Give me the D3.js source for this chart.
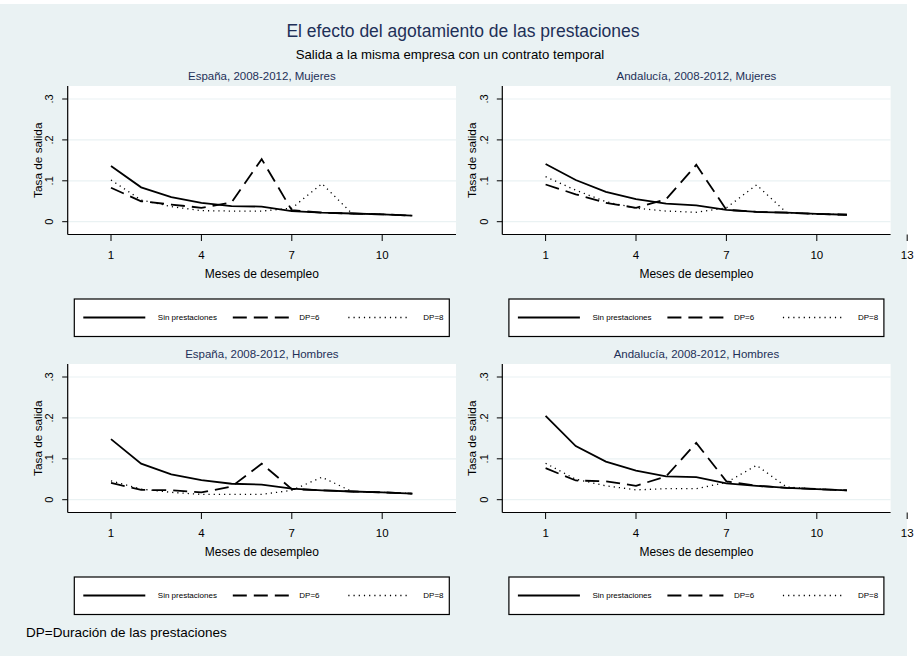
<!DOCTYPE html>
<html>
<head>
<meta charset="utf-8">
<script src="https://cdn.jsdelivr.net/npm/d3@7"></script>
<style>
  body { margin: 0; background: #fff; }
  text { font-family: "Liberation Sans", Arial, sans-serif; }
</style>
</head>
<body>
<div id="chart"></div>
<script>
// data
var months = [1, 2, 3, 4, 5, 6, 7, 8, 9, 10, 11];
var panelTitles = ["España, 2008-2012, Mujeres", "Andalucía, 2008-2012, Mujeres",
                   "España, 2008-2012, Hombres", "Andalucía, 2008-2012, Hombres"];
var sinPrestaciones = [
    [0.136, 0.084, 0.060, 0.046, 0.038, 0.037, 0.026, 0.022, 0.020, 0.018, 0.015],
    [0.141, 0.102, 0.073, 0.055, 0.044, 0.040, 0.029, 0.024, 0.022, 0.019, 0.017],
    [0.148, 0.088, 0.062, 0.048, 0.039, 0.037, 0.027, 0.023, 0.020, 0.018, 0.015],
    [0.205, 0.131, 0.093, 0.071, 0.057, 0.055, 0.040, 0.034, 0.029, 0.026, 0.023]
];
var dp6 = [
    [0.083, 0.050, 0.042, 0.034, 0.047, 0.153, 0.028, 0.022, 0.020, 0.018, 0.015],
    [0.091, 0.067, 0.046, 0.034, 0.055, 0.139, 0.029, 0.024, 0.022, 0.019, 0.017],
    [0.041, 0.024, 0.023, 0.018, 0.032, 0.088, 0.026, 0.023, 0.020, 0.018, 0.015],
    [0.077, 0.047, 0.045, 0.034, 0.057, 0.139, 0.045, 0.034, 0.029, 0.026, 0.023]
];
var dp8 = [
    [0.102, 0.053, 0.037, 0.027, 0.026, 0.026, 0.033, 0.093, 0.020, 0.018, 0.015],
    [0.110, 0.077, 0.049, 0.033, 0.026, 0.023, 0.034, 0.090, 0.022, 0.019, 0.017],
    [0.046, 0.026, 0.018, 0.013, 0.013, 0.013, 0.023, 0.055, 0.020, 0.018, 0.015],
    [0.089, 0.050, 0.034, 0.024, 0.027, 0.027, 0.042, 0.084, 0.031, 0.026, 0.023]
];
var yTicks = [0, 0.1, 0.2, 0.3];
var yTickLabels = ["0", ".1", ".2", ".3"];
var xTicks = [1, 4, 7, 10, 13];
var legendLabels = ["Sin prestaciones", "DP=6", "DP=8"];

var width = 919, height = 656;
var bg = "#eaf2f3", navy = "#1e3058";
var dashes = [null, "14,7", "1.2,4"];
var widths = [1.8, 1.8, 1.3];

var svg = d3.select("#chart").append("svg")
    .attr("width", width)
    .attr("height", height);

svg.append("rect")
    .attr("x", 0).attr("y", 4)
    .attr("width", 907).attr("height", height - 4)
    .attr("fill", bg);

svg.append("text")
    .attr("x", 463).attr("y", 37)
    .attr("text-anchor", "middle")
    .attr("font-size", 17.5)
    .attr("fill", navy)
    .text("El efecto del agotamiento de las prestaciones");

svg.append("text")
    .attr("x", 450).attr("y", 59)
    .attr("text-anchor", "middle")
    .attr("font-size", 13.2)
    .attr("fill", "#000")
    .text("Salida a la misma empresa con un contrato temporal");

svg.append("text")
    .attr("x", 26).attr("y", 637)
    .attr("font-size", 13.5)
    .attr("fill", "#000")
    .text("DP=Duración de las prestaciones");

var line = d3.line();

function drawPanel(i) {
    var col = i % 2, row = Math.floor(i / 2);
    var g = svg.append("g")
        .attr("transform", "translate(" + (col * 434.6) + "," + (row * 278) + ")");

    var x = d3.scaleLinear().domain([1, 13]).range([111, 472.6]);
    var y = d3.scaleLinear().domain([0, 0.3]).range([221.7, 99]);
    var left = 67.7, right = 456, top = 86, bottom = 234.5;

    g.append("rect")
        .attr("x", left).attr("y", top)
        .attr("width", right - left).attr("height", bottom - top)
        .attr("fill", "#fff");

    g.selectAll(".grid").data(yTicks).enter().append("line")
        .attr("x1", left).attr("x2", right)
        .attr("y1", function(d) { return y(d) })
        .attr("y2", function(d) { return y(d) })
        .attr("stroke", bg)
        .attr("stroke-width", 1.2);

    g.append("text")
        .attr("x", (left + right) / 2).attr("y", 80)
        .attr("text-anchor", "middle")
        .attr("font-size", 11.5)
        .attr("fill", navy)
        .text(panelTitles[i]);

    // series
    var series = [sinPrestaciones[i], dp6[i], dp8[i]];
    series.forEach(function(vals, k) {
        g.append("path")
            .attr("d", line(months.map(function(m, j) { return [x(m), y(vals[j])] })))
            .attr("fill", "none")
            .attr("stroke", "#000")
            .attr("stroke-width", widths[k])
            .attr("stroke-dasharray", dashes[k]);
    });

    // axes
    g.append("line")
        .attr("x1", left).attr("x2", left).attr("y1", top).attr("y2", bottom)
        .attr("stroke", "#000").attr("stroke-width", 1.2);
    g.append("line")
        .attr("x1", left).attr("x2", right).attr("y1", bottom).attr("y2", bottom)
        .attr("stroke", "#000").attr("stroke-width", 1.2);

    g.selectAll(".yt").data(yTicks).enter().append("line")
        .attr("x1", left - 5.5).attr("x2", left)
        .attr("y1", function(d) { return y(d) })
        .attr("y2", function(d) { return y(d) })
        .attr("stroke", "#000").attr("stroke-width", 1);

    g.selectAll(".ytl").data(yTicks).enter().append("text")
        .attr("transform", function(d) { return "translate(53," + y(d) + ") rotate(-90)" })
        .attr("text-anchor", "middle")
        .attr("font-size", 11)
        .text(function(d, j) { return yTickLabels[j] });

    g.append("text")
        .attr("transform", "translate(41.5," + ((top + bottom) / 2) + ") rotate(-90)")
        .attr("text-anchor", "middle")
        .attr("font-size", 11.8)
        .text("Tasa de salida");

    // the 13 tick only shows on the right column
    var xt = col == 1 ? xTicks : xTicks.slice(0, 4);
    g.selectAll(".xt").data(xt).enter().append("line")
        .attr("x1", function(d) { return x(d) })
        .attr("x2", function(d) { return x(d) })
        .attr("y1", bottom).attr("y2", bottom + 6.5)
        .attr("stroke", "#000").attr("stroke-width", 1);

    g.selectAll(".xtl").data(xt).enter().append("text")
        .attr("x", function(d) { return x(d) })
        .attr("y", 259)
        .attr("text-anchor", "middle")
        .attr("font-size", 11.5)
        .text(function(d) { return d });

    g.append("text")
        .attr("x", (left + right) / 2).attr("y", 277.5)
        .attr("text-anchor", "middle")
        .attr("font-size", 12)
        .text("Meses de desempleo");

    // legend
    var lx = 74.3, ly = 299, lw = 375, lh = 37.5;
    var leg = g.append("g");
    leg.append("rect")
        .attr("x", lx).attr("y", ly)
        .attr("width", lw).attr("height", lh)
        .attr("fill", "#fff")
        .attr("stroke", "#000")
        .attr("stroke-width", 1.2);

    var keyX = [9, 158.5, 274];
    var textX = [83.5, 225, 349];
    legendLabels.forEach(function(lab, k) {
        leg.append("line")
            .attr("x1", lx + keyX[k]).attr("x2", lx + keyX[k] + 62)
            .attr("y1", ly + 18.5).attr("y2", ly + 18.5)
            .attr("stroke", "#000")
            .attr("stroke-width", widths[k])
            .attr("stroke-dasharray", dashes[k]);
        leg.append("text")
            .attr("x", lx + textX[k]).attr("y", ly + 21)
            .attr("font-size", 8)
            .text(lab);
    });
}

for (var i = 0; i < 4; i++) drawPanel(i);
</script>
</body>
</html>
